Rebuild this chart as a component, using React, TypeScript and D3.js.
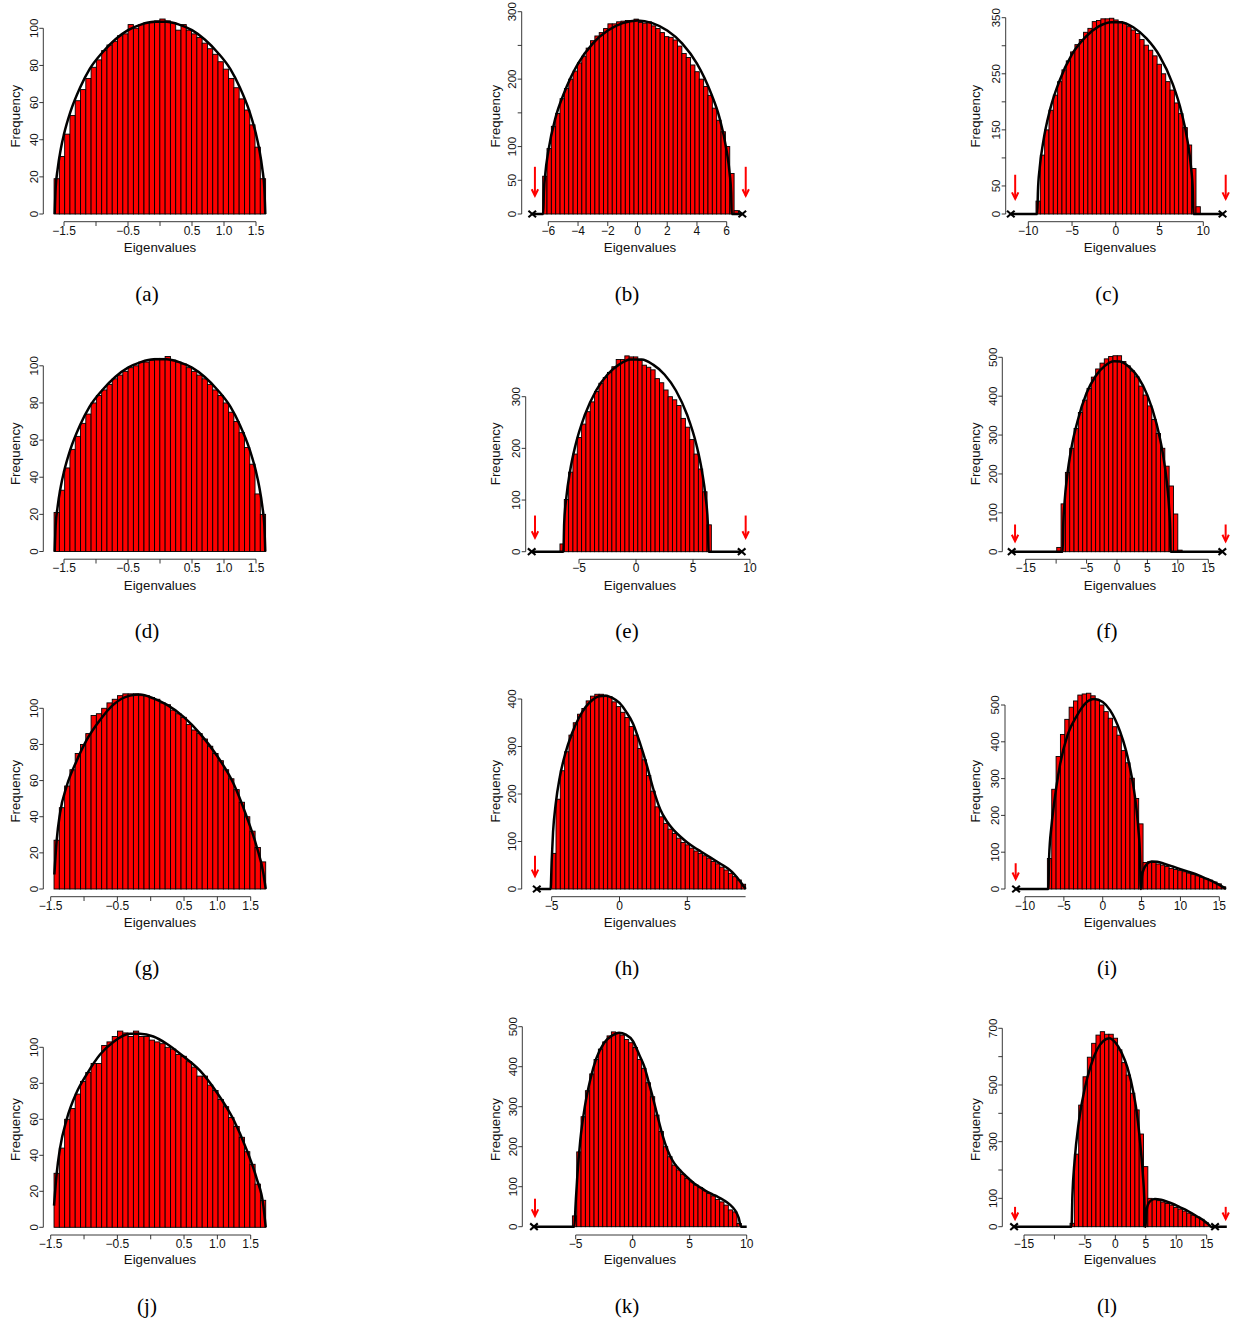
import React from "react";
import * as d3 from "d3";

type P = [number, number];

// ---------------- DATA ----------------
// (a)
const countsA = [19,31,43,53,61,67,73,79,83,88,91,93,96,97,102,100,102,103,103,104,105,104,103,99,102,99,97,95,92,89,86,82,78,73,68,62,56,48,36,19];
const binsA: P = [-1.655, 1.65];
const curveA: P[] = [[-1.645,0],[-1.63,14],[-1.6,24],[-1.55,35],[-1.5,43],[-1.4,55],[-1.25,68],[-1.1,78],[-0.9,87],[-0.7,94],[-0.5,99],[-0.3,102],[-0.1,103.5],[0.1,103.5],[0.3,102],[0.5,99],[0.7,94],[0.9,87],[1.1,78],[1.25,68],[1.4,55],[1.5,43],[1.55,35],[1.6,24],[1.63,14],[1.645,0]];
// (b)
const countsB = [56,97,130,149,171,186,200,212,224,234,246,257,264,269,275,282,282,285,286,287,286,289,284,283,285,279,275,269,263,262,258,249,238,232,221,211,200,189,176,157,139,122,100,60,5];
const binsB: P = [-6.38, 6.79];
const curveB: P[] = [[-7.08,0],[-6.34,0],[-6.3,31],[-6.2,60],[-6.0,93],[-5.5,144],[-5,176],[-4.5,202],[-4,223],[-3,253],[-2,272],[-1,283],[0,287],[1,283],[2,272],[3,253],[4,223],[4.5,202],[5,176],[5.5,144],[6.0,93],[6.2,60],[6.3,31],[6.34,0],[7.05,0]];
const outliersB = [-7.08, 7.05];
const arrowsB = [-6.9, 7.28];
// (c)
const countsC = [23,105,150,185,212,236,257,273,289,302,311,324,331,343,345,348,348,349,346,343,340,334,328,322,311,301,292,282,267,250,236,221,198,179,154,123,81,13];
const binsC: P = [-9.12, 9.66];
const curveC: P[] = [[-12.0,0],[-8.97,0],[-8.9,40],[-8.7,82],[-8.3,128],[-7.5,187],[-6.5,235],[-5,285],[-3.5,315],[-2,334],[-0.5,342],[0.5,342],[2,333],[3.5,313],[5,282],[6.5,232],[7.5,182],[8.2,130],[8.6,83],[8.8,43],[8.87,0],[12.2,0]];
const outliersC = [-12.0, 12.2];
const arrowsC = [-11.5, 12.56];
// (d)
const countsD = [21,33,45,55,62,69,74,80,84,87,90,93,95,97,99,100,102,102,103,104,104,105,103,102,101,99,97,95,93,90,87,84,80,75,70,64,56,47,31,20];
const binsD: P = [-1.655, 1.65];
const curveD: P[] = [[-1.645,0],[-1.63,14],[-1.6,24],[-1.55,35],[-1.5,43],[-1.4,55],[-1.25,68],[-1.1,78],[-0.9,87],[-0.7,94],[-0.5,99],[-0.3,102],[-0.1,103.5],[0.1,103.5],[0.3,102],[0.5,99],[0.7,94],[0.9,87],[1.1,78],[1.25,68],[1.4,55],[1.5,43],[1.55,35],[1.6,24],[1.63,14],[1.645,0]];
// (e)
const countsE = [15,101,154,189,221,247,271,290,310,326,337,347,358,372,372,379,377,377,370,361,357,352,335,327,313,300,294,283,258,241,217,189,160,116,52];
const binsE: P = [-6.67, 6.61];
const curveE: P[] = [[-9.15,0],[-6.37,0],[-6.3,55],[-6.1,107],[-5.8,154],[-5.3,207],[-4.5,264],[-3.5,312],[-2.5,343],[-1.5,362],[-0.5,372],[0.5,372],[1.5,362],[2.5,343],[3.5,312],[4.5,264],[5.3,207],[5.8,154],[6.1,107],[6.3,55],[6.37,0],[9.27,0]];
const outliersE = [-9.15, 9.27];
const arrowsE = [-8.86, 9.62];
// (f)
const countsF = [11,123,204,266,317,358,390,420,449,470,485,496,502,504,504,489,478,465,450,426,403,375,340,304,266,220,169,97,4];
const binsF: P = [-9.9, 10.7];
const curveF: P[] = [[-17.3,0],[-8.92,0],[-8.85,61],[-8.6,130],[-8.2,193],[-7.5,266],[-6.5,335],[-5,408],[-3.5,452],[-2,478],[-0.5,490],[0.5,489],[2,475],[3.5,448],[5,402],[6.5,329],[7.5,255],[8.2,177],[8.6,103],[8.75,52],[8.8,0],[17.3,0]];
const outliersF = [-17.3, 17.3];
const arrowsF = [-16.75, 17.85];
// (g)
const countsG = [27,45,57,66,75,80,86,96,97,100,103,105,107,108,108,108,107,107,106,105,103,102,99,97,95,91,88,86,83,79,75,71,66,61,55,48,40,32,23,15];
const binsG: P = [-1.45, 1.725];
const curveG: P[] = [[-1.445,8],[-1.41,27],[-1.36,42],[-1.26,57],[-1.11,71],[-0.96,82.5],[-0.76,93.5],[-0.56,102],[-0.31,107],[-0.16,107.6],[0.04,105.5],[0.24,102],[0.49,95.4],[0.74,86],[0.99,74],[1.24,58.5],[1.44,40],[1.59,23.4],[1.69,8.7],[1.725,0]];
// (h)
const countsH = [75,189,249,289,324,350,368,380,396,406,410,410,408,405,394,384,372,361,342,324,296,272,239,206,173,152,138,126,117,107,98,93,86,80,75,70,65,58,53,46,40,33,26,19,10];
const binsH: P = [-5.0, 9.3];
const curveH: P[] = [[-6.1,0],[-5.08,0],[-5.0,60],[-4.9,120],[-4.7,180],[-4.4,236],[-4.0,285],[-3.5,328],[-3.0,360],[-2.5,383],[-2.0,398],[-1.5,406],[-1.0,407],[-0.5,402],[0,392],[0.5,373],[1.0,348],[1.5,308],[2.0,262],[2.5,210],[3.0,168],[3.5,142],[4.0,124],[4.5,110],[5.0,98],[5.5,88],[6.0,79],[6.5,70],[7.0,61],[7.5,52],[8.0,43],[8.5,30],[8.9,16],[9.2,4],[9.3,0]];
const outliersH = [-6.1];
const arrowsH = [-6.23];
// (i)
const countsI = [83,271,360,420,461,494,511,527,530,532,525,515,500,482,464,441,418,376,343,301,246,177,72,74,72,68,65,61,56,53,50,47,43,40,36,32,28,24,19,14,6];
const binsI: P = [-7.12, 15.82];
const curveI: P[] = [[-11.15,0],[-7.0,0],[-6.9,85],[-6.6,170],[-6.3,225],[-5.5,337],[-4.5,420],[-3.3,472],[-2.2,505],[-1.1,516],[0,508],[0.94,486],[2.23,428],[3.0,376],[3.5,330],[4.0,272],[4.37,212],[4.6,160],[4.8,90],[4.89,0],[4.93,0],[5.05,35],[5.3,55],[5.7,68],[6.3,75],[7,74],[8,68],[9,61],[10,54],[11,47],[12,40],[13,31],[14,22],[15,11],[15.5,5],[15.85,0]];
const outliersI = [-11.15];
const arrowsI = [-11.2];
// (j)
const countsJ = [30,44,60,66,74,81,86,91,91,101,103,106,109,108,106,109,106,106,104,103,102,100,99,96,95,92,89,84,84,79,76,71,67,61,56,50,42,35,24,15];
const binsJ: P = [-1.45, 1.725];
const curveJ: P[] = [[-1.45,12],[-1.41,30],[-1.36,44],[-1.26,60],[-1.11,75],[-0.96,85],[-0.76,96],[-0.56,103],[-0.31,107.5],[-0.16,107.5],[0.04,106],[0.24,102],[0.49,95],[0.74,87],[0.99,75],[1.24,60],[1.44,43],[1.59,27],[1.69,12],[1.725,0]];
// (k)
const countsK = [27,187,275,340,382,418,444,462,477,487,485,479,468,460,448,418,396,360,325,279,238,200,175,154,142,131,121,112,104,98,90,83,77,68,62,54,42,37,8];
const binsK: P = [-5.29, 9.53];
const curveK: P[] = [[-8.66,0],[-5.12,0],[-5.0,60],[-4.85,130],[-4.6,215],[-4.2,300],[-3.7,370],[-3.2,420],[-2.5,460],[-1.8,478],[-1.2,485],[-0.6,480],[0,465],[0.6,428],[1.0,402],[1.36,366],[1.74,326],[2.12,283],[2.5,241],[2.88,205],[3.26,178],[3.64,159],[4.0,146],[4.4,134],[4.8,123],[5.2,113],[5.5,106],[6,97],[6.5,88],[7,81],[7.5,74],[8,66],[8.5,56],[9.0,40],[9.3,22],[9.5,0],[10,0]];
const outliersK = [-8.66];
const arrowsK = [-8.57];
// (l)
const countsL = [12,256,429,529,598,647,676,688,679,679,665,624,579,535,471,412,327,212,100,96,92,87,82,76,68,62,55,48,41,34,26,14];
const binsL: P = [-7.44, 15.27];
const curveL: P[] = [[-16.63,0],[-7.2,0],[-7.05,110],[-6.7,230],[-6,370],[-5,490],[-4,570],[-3,625],[-2,655],[-1,665],[0,650],[1,615],[2,560],[3,470],[3.6,390],[4.1,290],[4.5,190],[4.75,100],[4.88,0],[4.95,0],[5.05,40],[5.3,75],[5.8,92],[6.5,98],[7.5,95],[8.5,88],[9.5,80],[10.5,70],[11.5,60],[12.5,48],[13.5,35],[14.5,22],[15.3,8],[15.7,0],[18.3,0]];
const outliersL = [-16.63, 16.37];
const arrowsL = [-16.47, 18.12];

// arrows run from y=70 down to y=27 (data units)
const arrowSpan: P = [70, 27];

// tick values and labels
const xTicksSmall = [-1.5, -1, -0.5, 0, 0.5, 1, 1.5];
const xLabelsSmall = ["\u22121.5", "", "\u22120.5", "", "0.5", "1.0", "1.5"];
const xTicksB = [-6, -4, -2, 0, 2, 4, 6];
const xLabelsB = ["\u22126", "\u22124", "\u22122", "0", "2", "4", "6"];
const xTicksC = [-10, -5, 0, 5, 10];
const xLabelsC = ["\u221210", "\u22125", "0", "5", "10"];
const xTicksE = [-5, 0, 5, 10];
const xLabelsE = ["\u22125", "0", "5", "10"];
const xTicksF = [-15, -10, -5, 0, 5, 10, 15];
const xLabelsF = ["\u221215", "", "\u22125", "0", "5", "10", "15"];
const xTicksH = [-5, 0, 5];
const xLabelsH = ["\u22125", "0", "5"];
const xTicksI = [-10, -5, 0, 5, 10, 15];
const xLabelsI = ["\u221210", "\u22125", "0", "5", "10", "15"];

const yTicks100 = [0, 20, 40, 60, 80, 100];
const yLabels100 = ["0", "20", "40", "60", "80", "100"];
const yTicksB = [0, 50, 100, 150, 200, 250, 300];
const yLabelsB = ["0", "50", "100", "", "200", "", "300"];
const yTicksC = [0, 50, 100, 150, 200, 250, 300, 350];
const yLabelsC = ["0", "50", "", "150", "", "250", "", "350"];
const yTicksE = [0, 100, 200, 300];
const yLabelsE = ["0", "100", "200", "300"];
const yTicks400 = [0, 100, 200, 300, 400];
const yLabels400 = ["0", "100", "200", "300", "400"];
const yTicks500 = [0, 100, 200, 300, 400, 500];
const yLabels500 = ["0", "100", "200", "300", "400", "500"];
const yTicksL = [0, 100, 200, 300, 400, 500, 600, 700];
const yLabelsL = ["0", "100", "", "300", "", "500", "", "700"];

const captions = ["(a)", "(b)", "(c)", "(d)", "(e)", "(f)", "(g)", "(h)", "(i)", "(j)", "(k)", "(l)"];
const xTitle = "Eigenvalues";
const yTitle = "Frequency";

// ---------------- LAYOUT ----------------
const geom = [
  { xDom: [-1.5, 1.5], xRng: [64, 256], yDom: [0, 100], yRng: [214, 28.3], yAxisX: 43.3, xAxisY: 221.7, xExt: [-1.5, 1.5] },
  { xDom: [-6, 6], xRng: [548.3, 726.7], yDom: [0, 300], yRng: [214, 11.7], yAxisX: 521.7, xAxisY: 221.7, xExt: [-6, 6] },
  { xDom: [-10, 10], xRng: [1028.3, 1203.3], yDom: [0, 350], yRng: [214, 17.7], yAxisX: 1005.7, xAxisY: 221.7, xExt: [-10, 10] },
  { xDom: [-1.5, 1.5], xRng: [64, 256], yDom: [0, 100], yRng: [551.5, 365.8], yAxisX: 43.3, xAxisY: 559.2, xExt: [-1.5, 1.5] },
  { xDom: [-5, 10], xRng: [579, 750], yDom: [0, 300], yRng: [551.7, 396.7], yAxisX: 525.7, xAxisY: 559.3, xExt: [-5, 10] },
  { xDom: [-15, 15], xRng: [1025.7, 1208.3], yDom: [0, 500], yRng: [551.7, 357.3], yAxisX: 1002.3, xAxisY: 559.3, xExt: [-15, 15] },
  { xDom: [-1.5, 1.5], xRng: [50.7, 250.7], yDom: [0, 100], yRng: [889, 708.3], yAxisX: 43.3, xAxisY: 896.7, xExt: [-1.5, 1.5] },
  { xDom: [-5, 5], xRng: [551.7, 687.3], yDom: [0, 400], yRng: [889, 699], yAxisX: 521.7, xAxisY: 896.7, xExt: [-5, 9.3] },
  { xDom: [-10, 15], xRng: [1025, 1219.3], yDom: [0, 500], yRng: [889, 705], yAxisX: 1005, xAxisY: 896.7, xExt: [-10, 15] },
  { xDom: [-1.5, 1.5], xRng: [50.7, 250.7], yDom: [0, 100], yRng: [1227.3, 1047.3], yAxisX: 43.3, xAxisY: 1235, xExt: [-1.5, 1.5] },
  { xDom: [-5, 10], xRng: [575.7, 746.7], yDom: [0, 500], yRng: [1226.7, 1026.7], yAxisX: 522.3, xAxisY: 1235, xExt: [-5, 10] },
  { xDom: [-15, 15], xRng: [1024, 1206.7], yDom: [0, 700], yRng: [1226.7, 1028.3], yAxisX: 1002.3, xAxisY: 1235, xExt: [-15, 15] },
];
const captionY = [300.5, 637.5, 975, 1312.5];

const panels = [
  { counts: countsA, bins: binsA, curve: curveA, outliers: [], arrows: [], xT: xTicksSmall, xL: xLabelsSmall, yT: yTicks100, yL: yLabels100 },
  { counts: countsB, bins: binsB, curve: curveB, outliers: outliersB, arrows: arrowsB, xT: xTicksB, xL: xLabelsB, yT: yTicksB, yL: yLabelsB },
  { counts: countsC, bins: binsC, curve: curveC, outliers: outliersC, arrows: arrowsC, xT: xTicksC, xL: xLabelsC, yT: yTicksC, yL: yLabelsC },
  { counts: countsD, bins: binsD, curve: curveD, outliers: [], arrows: [], xT: xTicksSmall, xL: xLabelsSmall, yT: yTicks100, yL: yLabels100 },
  { counts: countsE, bins: binsE, curve: curveE, outliers: outliersE, arrows: arrowsE, xT: xTicksE, xL: xLabelsE, yT: yTicksE, yL: yLabelsE },
  { counts: countsF, bins: binsF, curve: curveF, outliers: outliersF, arrows: arrowsF, xT: xTicksF, xL: xLabelsF, yT: yTicks500, yL: yLabels500 },
  { counts: countsG, bins: binsG, curve: curveG, outliers: [], arrows: [], xT: xTicksSmall, xL: xLabelsSmall, yT: yTicks100, yL: yLabels100 },
  { counts: countsH, bins: binsH, curve: curveH, outliers: outliersH, arrows: arrowsH, xT: xTicksH, xL: xLabelsH, yT: yTicks400, yL: yLabels400 },
  { counts: countsI, bins: binsI, curve: curveI, outliers: outliersI, arrows: arrowsI, xT: xTicksI, xL: xLabelsI, yT: yTicks500, yL: yLabels500 },
  { counts: countsJ, bins: binsJ, curve: curveJ, outliers: [], arrows: [], xT: xTicksSmall, xL: xLabelsSmall, yT: yTicks100, yL: yLabels100 },
  { counts: countsK, bins: binsK, curve: curveK, outliers: outliersK, arrows: arrowsK, xT: xTicksE, xL: xLabelsE, yT: yTicks500, yL: yLabels500 },
  { counts: countsL, bins: binsL, curve: curveL, outliers: outliersL, arrows: arrowsL, xT: xTicksF, xL: xLabelsF, yT: yTicksL, yL: yLabelsL },
];

const FONT = "'Liberation Sans', Arial, Helvetica, sans-serif";
const TXT = "#111";

function Panel({ idx }: { idx: number }) {
  const p = panels[idx];
  const g = geom[idx];
  const col = idx % 3;
  const row = Math.floor(idx / 3);
  const x = d3.scaleLinear().domain(g.xDom).range(g.xRng);
  const y = d3.scaleLinear().domain(g.yDom).range(g.yRng);
  const n = p.counts.length;
  const bw = (p.bins[1] - p.bins[0]) / n;
  const line = d3
    .line<P>()
    .x((d) => x(d[0]))
    .y((d) => y(d[1]))
    .curve(d3.curveMonotoneX);
  const y0 = y(0);
  const yT0 = y(p.yT[0]);
  const yT1 = y(p.yT[p.yT.length - 1]);
  const titleDy = row === 3 ? 28.5 : 30.5;
  return (
    <g>
      {p.counts.map((c, i) => {
        const x0 = x(p.bins[0] + i * bw);
        const x1 = x(p.bins[0] + (i + 1) * bw);
        return (
          <rect key={i} x={x0} y={y(c)} width={x1 - x0} height={y0 - y(c)} fill="#ff0000" stroke="#000" strokeWidth={0.9} />
        );
      })}
      <path d={line(p.curve) || ""} fill="none" stroke="#000" strokeWidth={2.5} strokeLinejoin="round" />
      {p.outliers.map((o, i) => {
        const cx = x(o);
        return (
          <g key={"o" + i} stroke="#000" strokeWidth={2.1}>
            <line x1={cx - 3.8} y1={y0 - 3.3} x2={cx + 3.8} y2={y0 + 3.3} />
            <line x1={cx - 3.8} y1={y0 + 3.3} x2={cx + 3.8} y2={y0 - 3.3} />
          </g>
        );
      })}
      {p.arrows.map((a, i) => {
        const ax = x(a);
        const ya = y(arrowSpan[0]);
        const yb = y(arrowSpan[1]);
        return (
          <g key={"a" + i} stroke="#ff0000" strokeWidth={2} fill="none">
            <line x1={ax} y1={ya} x2={ax} y2={yb} />
            <path d={`M${ax - 3.2},${yb - 6.5}L${ax},${yb}L${ax + 3.2},${yb - 6.5}`} />
          </g>
        );
      })}
      <g stroke="#222" strokeWidth={0.9}>
        <line x1={g.yAxisX} y1={yT0} x2={g.yAxisX} y2={yT1} />
        {p.yT.map((t, i) => (
          <line key={i} x1={g.yAxisX} y1={y(t)} x2={g.yAxisX - 4} y2={y(t)} />
        ))}
      </g>
      {p.yT.map((t, i) =>
        p.yL[i] ? (
          <text key={"yl" + i} transform={`translate(${g.yAxisX - 5.8},${y(t)}) rotate(-90)`} textAnchor="middle" fontSize={11.5} fontFamily={FONT} fill={TXT}>
            {p.yL[i]}
          </text>
        ) : null
      )}
      <g stroke="#222" strokeWidth={0.9}>
        <line x1={x(g.xExt[0])} y1={g.xAxisY} x2={x(g.xExt[1])} y2={g.xAxisY} />
        {p.xT.map((t, i) => (
          <line key={i} x1={x(t)} y1={g.xAxisY} x2={x(t)} y2={g.xAxisY + 4.3} />
        ))}
      </g>
      {p.xT.map((t, i) =>
        p.xL[i] ? (
          <text key={"xl" + i} x={x(t)} y={g.xAxisY + 13} textAnchor="middle" fontSize={12} fontFamily={FONT} fill={TXT}>
            {p.xL[i]}
          </text>
        ) : null
      )}
      <text x={col * 480 + 160} y={g.xAxisY + titleDy} textAnchor="middle" fontSize={13.3} fontFamily={FONT} fill={TXT}>
        {xTitle}
      </text>
      <text transform={`translate(${col * 480 + 19.5},${g.xAxisY - 105.5}) rotate(-90)`} textAnchor="middle" fontSize={13.3} fontFamily={FONT} fill={TXT}>
        {yTitle}
      </text>
      <text x={col * 480 + 147} y={captionY[row]} textAnchor="middle" fontSize={21} fontFamily="'Liberation Serif', 'DejaVu Serif', serif" fill="#000">
        {captions[idx]}
      </text>
    </g>
  );
}

export default function App() {
  return (
    <svg width={1241} height={1327} style={{ position: "absolute", left: 0, top: 0, background: "#fff" }}>
      <rect x={0} y={0} width={1241} height={1327} fill="#fff" />
      {panels.map((_, i) => (
        <Panel key={i} idx={i} />
      ))}
    </svg>
  );
}
